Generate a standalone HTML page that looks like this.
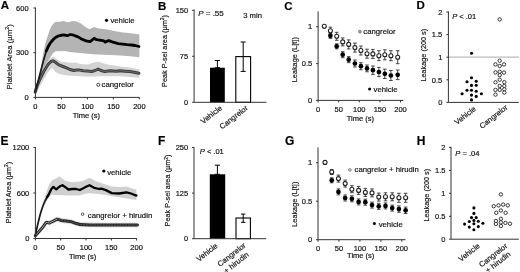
<!DOCTYPE html>
<html><head><meta charset="utf-8"><style>
html,body{margin:0;padding:0;background:#fff;width:520px;height:272px;overflow:hidden}
text{stroke:#111;stroke-width:0.18px}
</style></head><body>
<svg width="520" height="272" viewBox="0 0 520 272" style="display:block;filter:blur(0.3px)">
<g font-family='"Liberation Sans", sans-serif'>
<text x="0.8" y="9.3" font-size="11.5" text-anchor="start" font-weight="bold" font-style="normal" fill="#000" >A</text>
<polygon points="35.2,91 38,82 41,68 43.4,52 45.2,44.4 46.1,40.7 48,35.2 49.8,29.7 51.6,26 54.4,22.4 57,21.8 60,21.8 63.7,20.9 68,22.4 72.3,20.9 76.6,21.4 81,23.5 85.3,27.1 89.6,29.3 94,27 98.3,28.4 100,28.6 107.7,29.4 115.4,31.2 123.1,32.4 130.8,33.2 138.5,34.3 139.4,34.4 139.4,57.3 130,56.3 120.4,55.6 104,54.8 93.1,54.2 87.7,53.8 80,53 71.3,52.2 64.2,51 55.6,51.3 52.7,53.5 50.5,57 47.5,62 44,68 41,75 38,84 35.2,93" fill="#b4b4b4"/>
<polygon points="35.2,90 38,83 41,75 45,66 49,59 53,56.7 56,58.5 60,61.2 67.1,62.5 76.1,62.8 80,64 88.2,64.5 92,63 98.2,61.6 104,63.5 110,65 116.4,65.8 119.9,66.6 130,67.5 138,69.1 139.4,69.3 139.4,77.8 130,77 120.4,76.2 100,76.3 87.7,76.8 76.1,76 67.1,75.4 60,74.3 55.5,72 52,68 48,72 44,79 40,86 37,92 35.2,95" fill="#d3d3d3"/>
<polyline points="35.2,92 37,86 40,79 44,71 48,64.5 51,61.5 53,60.8 55,62 58.8,64.9 63,66.5 67.1,68.2 70,69.5 73.7,70.5 77,70 79,69.9 83.3,70.7 87,71 91.6,71.6 95,70.5 98.2,69.1 101,70.5 104.8,71.6 110,70.7 116.4,71.3 119.9,70.7 125,71.2 129.8,71.6 134,72.3 138.9,73.2" fill="none" stroke="#3c3c3c" stroke-width="3.0" stroke-linejoin="round" stroke-linecap="round" />
<polyline points="35.2,92 37,86 40,79 44,71 48,64.5 51,61.5 53,60.8 55,62 58.8,64.9 63,66.5 67.1,68.2 70,69.5 73.7,70.5 77,70 79,69.9 83.3,70.7 87,71 91.6,71.6 95,70.5 98.2,69.1 101,70.5 104.8,71.6 110,70.7 116.4,71.3 119.9,70.7 125,71.2 129.8,71.6 134,72.3 138.9,73.2" fill="none" stroke="#767676" stroke-width="0.8" stroke-linejoin="round" stroke-linecap="round" />
<polyline points="35.2,92 37.4,84 40.1,73.5 41.8,67 43.2,61.5 45,55.5 46.3,51 48,47" fill="none" stroke="#1a1a1a" stroke-width="1.7" stroke-linejoin="round" stroke-linecap="round" />
<polyline points="46.3,51 48,47 50,43.5 51.5,41.5 53.5,39.3 55.5,37.5 57.9,36.2 60,35.5 63.8,34.9 67.1,35.7 70.4,34.5 73.7,35.2 78,36.9 82,39.3 86.1,40.9 90.1,41.7 92.6,39.7 94.2,38.3 96.6,39.7 99.8,40.1 103.9,40.9 105,42.1 107,41.2 109,40.6 112.9,42.2 118.2,43.6 122.7,44.1 127.1,44.6 131.5,45 135,45.5 139,46.5" fill="none" stroke="#000" stroke-width="2.8" stroke-linejoin="round" stroke-linecap="round" />
<line x1="35.4" y1="7.5" x2="35.4" y2="97.4" stroke="#333" stroke-width="1"/>
<line x1="33.4" y1="8" x2="35.4" y2="8" stroke="#333" stroke-width="1"/>
<text x="28.6" y="10.7" font-size="7.5" text-anchor="end" font-weight="normal" font-style="normal" fill="#111" >600</text>
<line x1="33.4" y1="52.7" x2="35.4" y2="52.7" stroke="#333" stroke-width="1"/>
<text x="28.6" y="55.400000000000006" font-size="7.5" text-anchor="end" font-weight="normal" font-style="normal" fill="#111" >300</text>
<line x1="33.4" y1="97.4" x2="35.4" y2="97.4" stroke="#333" stroke-width="1"/>
<text x="28.6" y="100.10000000000001" font-size="7.5" text-anchor="end" font-weight="normal" font-style="normal" fill="#111" >0</text>
<line x1="35.4" y1="97.4" x2="139.6" y2="97.4" stroke="#333" stroke-width="1"/>
<line x1="35.4" y1="97.4" x2="35.4" y2="99.4" stroke="#333" stroke-width="1"/>
<text x="35.4" y="109.4" font-size="7.5" text-anchor="middle" font-weight="normal" font-style="normal" fill="#111" >0</text>
<line x1="61.4" y1="97.4" x2="61.4" y2="99.4" stroke="#333" stroke-width="1"/>
<text x="61.4" y="109.4" font-size="7.5" text-anchor="middle" font-weight="normal" font-style="normal" fill="#111" >50</text>
<line x1="87.4" y1="97.4" x2="87.4" y2="99.4" stroke="#333" stroke-width="1"/>
<text x="87.4" y="109.4" font-size="7.5" text-anchor="middle" font-weight="normal" font-style="normal" fill="#111" >100</text>
<line x1="113.4" y1="97.4" x2="113.4" y2="99.4" stroke="#333" stroke-width="1"/>
<text x="113.4" y="109.4" font-size="7.5" text-anchor="middle" font-weight="normal" font-style="normal" fill="#111" >150</text>
<line x1="139.4" y1="97.4" x2="139.4" y2="99.4" stroke="#333" stroke-width="1"/>
<text x="139.4" y="109.4" font-size="7.5" text-anchor="middle" font-weight="normal" font-style="normal" fill="#111" >200</text>
<text x="86.3" y="117.8" font-size="7.5" text-anchor="middle" font-weight="normal" font-style="normal" fill="#111" >Time (s)</text>
<text x="0" y="0" font-size="7.75" text-anchor="middle" fill="#1a1a1a" transform="translate(11.6,56.8) rotate(-90)">Platelet Area (µm<tspan font-size="5.4" dy="-2.3">2</tspan><tspan dy="2.3">)</tspan></text>
<circle cx="106.5" cy="20.3" r="1.6" fill="#000"/>
<text x="110.4" y="23.2" font-size="7.75" text-anchor="start" font-weight="normal" font-style="normal" fill="#111" >vehicle</text>
<circle cx="98.3" cy="84.8" r="1.5" fill="#fff" stroke="#333" stroke-width="0.9"/>
<text x="101.6" y="87.4" font-size="7.75" text-anchor="start" font-weight="normal" font-style="normal" fill="#111" >cangrelor</text>
<text x="158.1" y="9.5" font-size="11.5" text-anchor="start" font-weight="bold" font-style="normal" fill="#000" >B</text>
<rect x="210" y="67.7" width="14.8" height="34.6" fill="#000"/>
<line x1="217.4" y1="60.5" x2="217.4" y2="67.7" stroke="#000" stroke-width="1.0"/>
<line x1="214.8" y1="60.5" x2="220.0" y2="60.5" stroke="#000" stroke-width="1.0"/>
<line x1="214.8" y1="67.7" x2="220.0" y2="67.7" stroke="#000" stroke-width="1.0"/>
<rect x="235.8" y="56.6" width="14.8" height="45.7" fill="#fff" stroke="#000" stroke-width="1.1"/>
<line x1="243.2" y1="42.0" x2="243.2" y2="71.4" stroke="#000" stroke-width="1.0"/>
<line x1="240.7" y1="42.0" x2="245.7" y2="42.0" stroke="#000" stroke-width="1.0"/>
<line x1="240.7" y1="71.4" x2="245.7" y2="71.4" stroke="#000" stroke-width="1.0"/>
<line x1="194.1" y1="9.5" x2="194.1" y2="102.3" stroke="#333" stroke-width="1"/>
<line x1="192.1" y1="10.3" x2="194.1" y2="10.3" stroke="#333" stroke-width="1"/>
<text x="188.2" y="13.0" font-size="7.5" text-anchor="end" font-weight="normal" font-style="normal" fill="#111" >150</text>
<line x1="192.1" y1="56.3" x2="194.1" y2="56.3" stroke="#333" stroke-width="1"/>
<text x="188.2" y="59.0" font-size="7.5" text-anchor="end" font-weight="normal" font-style="normal" fill="#111" >75</text>
<line x1="192.1" y1="102.3" x2="194.1" y2="102.3" stroke="#333" stroke-width="1"/>
<text x="188.2" y="105.0" font-size="7.5" text-anchor="end" font-weight="normal" font-style="normal" fill="#111" >0</text>
<line x1="194.1" y1="102.3" x2="266.5" y2="102.3" stroke="#333" stroke-width="1"/>
<text x="198.2" y="15.6" font-size="8.0" text-anchor="start" font-weight="normal" font-style="normal" fill="#111" ><tspan font-style="italic">P</tspan> = .55</text>
<text x="243.2" y="18.3" font-size="7.7" text-anchor="start" font-weight="normal" font-style="normal" fill="#111" >3 min</text>
<text x="0" y="0" font-size="7.3" text-anchor="middle" fill="#1a1a1a" transform="translate(166.9,51.0) rotate(-90)">Peak P-sel area (µm<tspan font-size="5" dy="-2.5">2</tspan><tspan dy="2.5">)</tspan></text>
<text x="0" y="0" font-size="7.6" text-anchor="end" fill="#1a1a1a" transform="translate(222.6,109.1) rotate(-38)">Vehicle</text>
<text x="0" y="0" font-size="7.6" text-anchor="end" fill="#1a1a1a" transform="translate(248.4,109.0) rotate(-38)">Cangrelor</text>
<text x="284.3" y="9.5" font-size="11.5" text-anchor="start" font-weight="bold" font-style="normal" fill="#000" >C</text>
<line x1="318.1" y1="11.4" x2="318.1" y2="100.4" stroke="#333" stroke-width="1"/>
<line x1="316.1" y1="26.7" x2="318.1" y2="26.7" stroke="#333" stroke-width="1"/>
<text x="312.2" y="29.4" font-size="7.5" text-anchor="end" font-weight="normal" font-style="normal" fill="#111" >1</text>
<line x1="316.1" y1="63.6" x2="318.1" y2="63.6" stroke="#333" stroke-width="1"/>
<text x="312.2" y="66.3" font-size="7.5" text-anchor="end" font-weight="normal" font-style="normal" fill="#111" >0.5</text>
<line x1="316.1" y1="100.4" x2="318.1" y2="100.4" stroke="#333" stroke-width="1"/>
<text x="312.2" y="103.10000000000001" font-size="7.5" text-anchor="end" font-weight="normal" font-style="normal" fill="#111" >0</text>
<line x1="318.1" y1="100.4" x2="403.4" y2="100.4" stroke="#333" stroke-width="1"/>
<line x1="318.1" y1="100.4" x2="318.1" y2="102.4" stroke="#333" stroke-width="1"/>
<text x="318.1" y="111.9" font-size="7.5" text-anchor="middle" font-weight="normal" font-style="normal" fill="#111" >0</text>
<line x1="338.70000000000005" y1="100.4" x2="338.70000000000005" y2="102.4" stroke="#333" stroke-width="1"/>
<text x="338.70000000000005" y="111.9" font-size="7.5" text-anchor="middle" font-weight="normal" font-style="normal" fill="#111" >50</text>
<line x1="359.3" y1="100.4" x2="359.3" y2="102.4" stroke="#333" stroke-width="1"/>
<text x="359.3" y="111.9" font-size="7.5" text-anchor="middle" font-weight="normal" font-style="normal" fill="#111" >100</text>
<line x1="379.90000000000003" y1="100.4" x2="379.90000000000003" y2="102.4" stroke="#333" stroke-width="1"/>
<text x="379.90000000000003" y="111.9" font-size="7.5" text-anchor="middle" font-weight="normal" font-style="normal" fill="#111" >150</text>
<line x1="400.5" y1="100.4" x2="400.5" y2="102.4" stroke="#333" stroke-width="1"/>
<text x="400.5" y="111.9" font-size="7.5" text-anchor="middle" font-weight="normal" font-style="normal" fill="#111" >200</text>
<text x="360.4" y="120.7" font-size="7.5" text-anchor="middle" font-weight="normal" font-style="normal" fill="#111" >Time (s)</text>
<text x="0" y="0" font-size="7.3" text-anchor="middle" fill="#1a1a1a" transform="translate(297.0,59.7) rotate(-90)">Leakage (L[t])</text>
<line x1="330.4" y1="33.3" x2="330.4" y2="38.3" stroke="#333" stroke-width="0.9"/>
<line x1="328.59999999999997" y1="33.3" x2="332.2" y2="33.3" stroke="#333" stroke-width="0.9"/>
<line x1="328.59999999999997" y1="38.3" x2="332.2" y2="38.3" stroke="#333" stroke-width="0.9"/>
<line x1="330.4" y1="27.2" x2="330.4" y2="34.2" stroke="#333" stroke-width="0.9"/>
<line x1="328.59999999999997" y1="27.2" x2="332.2" y2="27.2" stroke="#333" stroke-width="0.9"/>
<line x1="328.59999999999997" y1="34.2" x2="332.2" y2="34.2" stroke="#333" stroke-width="0.9"/>
<line x1="336.7" y1="43.8" x2="336.7" y2="48.8" stroke="#333" stroke-width="0.9"/>
<line x1="334.9" y1="43.8" x2="338.5" y2="43.8" stroke="#333" stroke-width="0.9"/>
<line x1="334.9" y1="48.8" x2="338.5" y2="48.8" stroke="#333" stroke-width="0.9"/>
<line x1="336.7" y1="32.3" x2="336.7" y2="40.3" stroke="#333" stroke-width="0.9"/>
<line x1="334.9" y1="32.3" x2="338.5" y2="32.3" stroke="#333" stroke-width="0.9"/>
<line x1="334.9" y1="40.3" x2="338.5" y2="40.3" stroke="#333" stroke-width="0.9"/>
<line x1="342.7" y1="51.7" x2="342.7" y2="57.7" stroke="#333" stroke-width="0.9"/>
<line x1="340.9" y1="51.7" x2="344.5" y2="51.7" stroke="#333" stroke-width="0.9"/>
<line x1="340.9" y1="57.7" x2="344.5" y2="57.7" stroke="#333" stroke-width="0.9"/>
<line x1="342.7" y1="37.9" x2="342.7" y2="45.9" stroke="#333" stroke-width="0.9"/>
<line x1="340.9" y1="37.9" x2="344.5" y2="37.9" stroke="#333" stroke-width="0.9"/>
<line x1="340.9" y1="45.9" x2="344.5" y2="45.9" stroke="#333" stroke-width="0.9"/>
<line x1="348.7" y1="56.7" x2="348.7" y2="62.7" stroke="#333" stroke-width="0.9"/>
<line x1="346.9" y1="56.7" x2="350.5" y2="56.7" stroke="#333" stroke-width="0.9"/>
<line x1="346.9" y1="62.7" x2="350.5" y2="62.7" stroke="#333" stroke-width="0.9"/>
<line x1="348.7" y1="39.9" x2="348.7" y2="48.9" stroke="#333" stroke-width="0.9"/>
<line x1="346.9" y1="39.9" x2="350.5" y2="39.9" stroke="#333" stroke-width="0.9"/>
<line x1="346.9" y1="48.9" x2="350.5" y2="48.9" stroke="#333" stroke-width="0.9"/>
<line x1="354.9" y1="60.0" x2="354.9" y2="67.0" stroke="#333" stroke-width="0.9"/>
<line x1="353.09999999999997" y1="60.0" x2="356.7" y2="60.0" stroke="#333" stroke-width="0.9"/>
<line x1="353.09999999999997" y1="67.0" x2="356.7" y2="67.0" stroke="#333" stroke-width="0.9"/>
<line x1="354.9" y1="43.1" x2="354.9" y2="52.1" stroke="#333" stroke-width="0.9"/>
<line x1="353.09999999999997" y1="43.1" x2="356.7" y2="43.1" stroke="#333" stroke-width="0.9"/>
<line x1="353.09999999999997" y1="52.1" x2="356.7" y2="52.1" stroke="#333" stroke-width="0.9"/>
<line x1="360.9" y1="62.7" x2="360.9" y2="69.7" stroke="#333" stroke-width="0.9"/>
<line x1="359.09999999999997" y1="62.7" x2="362.7" y2="62.7" stroke="#333" stroke-width="0.9"/>
<line x1="359.09999999999997" y1="69.7" x2="362.7" y2="69.7" stroke="#333" stroke-width="0.9"/>
<line x1="360.9" y1="46.0" x2="360.9" y2="55.0" stroke="#333" stroke-width="0.9"/>
<line x1="359.09999999999997" y1="46.0" x2="362.7" y2="46.0" stroke="#333" stroke-width="0.9"/>
<line x1="359.09999999999997" y1="55.0" x2="362.7" y2="55.0" stroke="#333" stroke-width="0.9"/>
<line x1="367.0" y1="65.0" x2="367.0" y2="71.80000000000001" stroke="#333" stroke-width="0.9"/>
<line x1="365.2" y1="65.0" x2="368.8" y2="65.0" stroke="#333" stroke-width="0.9"/>
<line x1="365.2" y1="71.80000000000001" x2="368.8" y2="71.80000000000001" stroke="#333" stroke-width="0.9"/>
<line x1="367.0" y1="49.2" x2="367.0" y2="58.2" stroke="#333" stroke-width="0.9"/>
<line x1="365.2" y1="49.2" x2="368.8" y2="49.2" stroke="#333" stroke-width="0.9"/>
<line x1="365.2" y1="58.2" x2="368.8" y2="58.2" stroke="#333" stroke-width="0.9"/>
<line x1="372.9" y1="66.0" x2="372.9" y2="74.4" stroke="#333" stroke-width="0.9"/>
<line x1="371.09999999999997" y1="66.0" x2="374.7" y2="66.0" stroke="#333" stroke-width="0.9"/>
<line x1="371.09999999999997" y1="74.4" x2="374.7" y2="74.4" stroke="#333" stroke-width="0.9"/>
<line x1="372.9" y1="49.4" x2="372.9" y2="58.4" stroke="#333" stroke-width="0.9"/>
<line x1="371.09999999999997" y1="49.4" x2="374.7" y2="49.4" stroke="#333" stroke-width="0.9"/>
<line x1="371.09999999999997" y1="58.4" x2="374.7" y2="58.4" stroke="#333" stroke-width="0.9"/>
<line x1="378.9" y1="67.4" x2="378.9" y2="76.6" stroke="#333" stroke-width="0.9"/>
<line x1="377.09999999999997" y1="67.4" x2="380.7" y2="67.4" stroke="#333" stroke-width="0.9"/>
<line x1="377.09999999999997" y1="76.6" x2="380.7" y2="76.6" stroke="#333" stroke-width="0.9"/>
<line x1="378.9" y1="50.7" x2="378.9" y2="60.7" stroke="#333" stroke-width="0.9"/>
<line x1="377.09999999999997" y1="50.7" x2="380.7" y2="50.7" stroke="#333" stroke-width="0.9"/>
<line x1="377.09999999999997" y1="60.7" x2="380.7" y2="60.7" stroke="#333" stroke-width="0.9"/>
<line x1="384.8" y1="69.1" x2="384.8" y2="78.5" stroke="#333" stroke-width="0.9"/>
<line x1="383.0" y1="69.1" x2="386.6" y2="69.1" stroke="#333" stroke-width="0.9"/>
<line x1="383.0" y1="78.5" x2="386.6" y2="78.5" stroke="#333" stroke-width="0.9"/>
<line x1="384.8" y1="49.8" x2="384.8" y2="59.8" stroke="#333" stroke-width="0.9"/>
<line x1="383.0" y1="49.8" x2="386.6" y2="49.8" stroke="#333" stroke-width="0.9"/>
<line x1="383.0" y1="59.8" x2="386.6" y2="59.8" stroke="#333" stroke-width="0.9"/>
<line x1="390.9" y1="70.5" x2="390.9" y2="80.5" stroke="#333" stroke-width="0.9"/>
<line x1="389.09999999999997" y1="70.5" x2="392.7" y2="70.5" stroke="#333" stroke-width="0.9"/>
<line x1="389.09999999999997" y1="80.5" x2="392.7" y2="80.5" stroke="#333" stroke-width="0.9"/>
<line x1="390.9" y1="50.7" x2="390.9" y2="60.7" stroke="#333" stroke-width="0.9"/>
<line x1="389.09999999999997" y1="50.7" x2="392.7" y2="50.7" stroke="#333" stroke-width="0.9"/>
<line x1="389.09999999999997" y1="60.7" x2="392.7" y2="60.7" stroke="#333" stroke-width="0.9"/>
<line x1="397.7" y1="70.0" x2="397.7" y2="79.6" stroke="#333" stroke-width="0.9"/>
<line x1="395.9" y1="70.0" x2="399.5" y2="70.0" stroke="#333" stroke-width="0.9"/>
<line x1="395.9" y1="79.6" x2="399.5" y2="79.6" stroke="#333" stroke-width="0.9"/>
<line x1="397.7" y1="50.7" x2="397.7" y2="63.7" stroke="#333" stroke-width="0.9"/>
<line x1="395.9" y1="50.7" x2="399.5" y2="50.7" stroke="#333" stroke-width="0.9"/>
<line x1="395.9" y1="63.7" x2="399.5" y2="63.7" stroke="#333" stroke-width="0.9"/>
<circle cx="330.4" cy="35.8" r="2.35" fill="#000"/>
<circle cx="336.7" cy="46.3" r="2.35" fill="#000"/>
<circle cx="342.7" cy="54.7" r="2.35" fill="#000"/>
<circle cx="348.7" cy="59.7" r="2.35" fill="#000"/>
<circle cx="354.9" cy="63.5" r="2.35" fill="#000"/>
<circle cx="360.9" cy="66.2" r="2.35" fill="#000"/>
<circle cx="367.0" cy="68.4" r="2.35" fill="#000"/>
<circle cx="372.9" cy="70.2" r="2.35" fill="#000"/>
<circle cx="378.9" cy="72.0" r="2.35" fill="#000"/>
<circle cx="384.8" cy="73.8" r="2.35" fill="#000"/>
<circle cx="390.9" cy="75.5" r="2.35" fill="#000"/>
<circle cx="397.7" cy="74.8" r="2.35" fill="#000"/>
<circle cx="324.3" cy="26.3" r="2.0" fill="#fff" stroke="#222" stroke-width="1.1"/>
<circle cx="330.4" cy="30.7" r="2.0" fill="#fff" stroke="#222" stroke-width="1.1"/>
<circle cx="336.7" cy="36.3" r="2.0" fill="#fff" stroke="#222" stroke-width="1.1"/>
<circle cx="342.7" cy="41.9" r="2.0" fill="#fff" stroke="#222" stroke-width="1.1"/>
<circle cx="348.7" cy="44.4" r="2.0" fill="#fff" stroke="#222" stroke-width="1.1"/>
<circle cx="354.9" cy="47.6" r="2.0" fill="#fff" stroke="#222" stroke-width="1.1"/>
<circle cx="360.9" cy="50.5" r="2.0" fill="#fff" stroke="#222" stroke-width="1.1"/>
<circle cx="367.0" cy="53.7" r="2.0" fill="#fff" stroke="#222" stroke-width="1.1"/>
<circle cx="372.9" cy="53.9" r="2.0" fill="#fff" stroke="#222" stroke-width="1.1"/>
<circle cx="378.9" cy="55.7" r="2.0" fill="#fff" stroke="#222" stroke-width="1.1"/>
<circle cx="384.8" cy="54.8" r="2.0" fill="#fff" stroke="#222" stroke-width="1.1"/>
<circle cx="390.9" cy="55.7" r="2.0" fill="#fff" stroke="#222" stroke-width="1.1"/>
<circle cx="397.7" cy="57.2" r="2.0" fill="#fff" stroke="#222" stroke-width="1.1"/>
<circle cx="359.9" cy="31.6" r="1.4" fill="#aaa" stroke="#666" stroke-width="0.8"/>
<text x="363.3" y="34.3" font-size="7.75" text-anchor="start" font-weight="normal" font-style="normal" fill="#111" >cangrelor</text>
<circle cx="369.6" cy="89.1" r="1.5" fill="#000"/>
<text x="373.5" y="91.7" font-size="7.75" text-anchor="start" font-weight="normal" font-style="normal" fill="#111" >vehicle</text>
<text x="416.5" y="9.3" font-size="11.5" text-anchor="start" font-weight="bold" font-style="normal" fill="#000" >D</text>
<line x1="448" y1="57.1" x2="519" y2="57.1" stroke="#aaa" stroke-width="1"/>
<line x1="448.4" y1="11.4" x2="448.4" y2="102.4" stroke="#333" stroke-width="1"/>
<line x1="446.4" y1="12" x2="448.4" y2="12" stroke="#333" stroke-width="1"/>
<text x="442.3" y="14.7" font-size="7.5" text-anchor="end" font-weight="normal" font-style="normal" fill="#111" >2</text>
<line x1="446.4" y1="34.6" x2="448.4" y2="34.6" stroke="#333" stroke-width="1"/>
<text x="442.3" y="37.300000000000004" font-size="7.5" text-anchor="end" font-weight="normal" font-style="normal" fill="#111" >1.5</text>
<line x1="446.4" y1="57.2" x2="448.4" y2="57.2" stroke="#333" stroke-width="1"/>
<text x="442.3" y="59.900000000000006" font-size="7.5" text-anchor="end" font-weight="normal" font-style="normal" fill="#111" >1</text>
<line x1="446.4" y1="79.8" x2="448.4" y2="79.8" stroke="#333" stroke-width="1"/>
<text x="442.3" y="82.5" font-size="7.5" text-anchor="end" font-weight="normal" font-style="normal" fill="#111" >0.5</text>
<line x1="446.4" y1="102.4" x2="448.4" y2="102.4" stroke="#333" stroke-width="1"/>
<text x="442.3" y="105.10000000000001" font-size="7.5" text-anchor="end" font-weight="normal" font-style="normal" fill="#111" >0</text>
<line x1="448.4" y1="102.4" x2="518.8" y2="102.4" stroke="#333" stroke-width="1"/>
<text x="452.2" y="19.4" font-size="7.5" text-anchor="start" font-weight="normal" font-style="normal" fill="#111" ><tspan font-style="italic">P</tspan> &lt; .01</text>
<circle cx="471.6" cy="53.2" r="1.55" fill="#000"/>
<circle cx="471.5" cy="77.7" r="1.55" fill="#000"/>
<circle cx="467" cy="81.8" r="1.55" fill="#000"/>
<circle cx="476.2" cy="81.3" r="1.55" fill="#000"/>
<circle cx="471.5" cy="85.4" r="1.55" fill="#000"/>
<circle cx="476.2" cy="85.2" r="1.55" fill="#000"/>
<circle cx="467" cy="90.2" r="1.55" fill="#000"/>
<circle cx="471.5" cy="90.2" r="1.55" fill="#000"/>
<circle cx="476.2" cy="91.2" r="1.55" fill="#000"/>
<circle cx="462.1" cy="93.8" r="1.55" fill="#000"/>
<circle cx="481.4" cy="93.8" r="1.55" fill="#000"/>
<circle cx="471.5" cy="95.1" r="1.55" fill="#000"/>
<circle cx="476.2" cy="96.4" r="1.55" fill="#000"/>
<circle cx="471.5" cy="99.9" r="1.55" fill="#000"/>
<circle cx="499.7" cy="19.4" r="1.7" fill="#fff" stroke="#222" stroke-width="0.9"/>
<circle cx="499.7" cy="60.7" r="1.7" fill="#fff" stroke="#222" stroke-width="0.9"/>
<circle cx="495.5" cy="64.4" r="1.7" fill="#fff" stroke="#222" stroke-width="0.9"/>
<circle cx="504" cy="64.4" r="1.7" fill="#fff" stroke="#222" stroke-width="0.9"/>
<circle cx="499.7" cy="66" r="1.7" fill="#fff" stroke="#222" stroke-width="0.9"/>
<circle cx="495.5" cy="72.4" r="1.7" fill="#fff" stroke="#222" stroke-width="0.9"/>
<circle cx="499.7" cy="71.8" r="1.7" fill="#fff" stroke="#222" stroke-width="0.9"/>
<circle cx="504" cy="72.6" r="1.7" fill="#fff" stroke="#222" stroke-width="0.9"/>
<circle cx="499.7" cy="75.1" r="1.7" fill="#fff" stroke="#222" stroke-width="0.9"/>
<circle cx="499.7" cy="79.7" r="1.7" fill="#fff" stroke="#222" stroke-width="0.9"/>
<circle cx="495.5" cy="82.3" r="1.7" fill="#fff" stroke="#222" stroke-width="0.9"/>
<circle cx="504.3" cy="82.2" r="1.7" fill="#fff" stroke="#222" stroke-width="0.9"/>
<circle cx="499.7" cy="86" r="1.7" fill="#fff" stroke="#222" stroke-width="0.9"/>
<circle cx="504.3" cy="86" r="1.7" fill="#fff" stroke="#222" stroke-width="0.9"/>
<circle cx="495.5" cy="89.9" r="1.7" fill="#fff" stroke="#222" stroke-width="0.9"/>
<circle cx="499.7" cy="89.9" r="1.7" fill="#fff" stroke="#222" stroke-width="0.9"/>
<circle cx="504.3" cy="89.3" r="1.7" fill="#fff" stroke="#222" stroke-width="0.9"/>
<circle cx="495.5" cy="94.6" r="1.7" fill="#fff" stroke="#222" stroke-width="0.9"/>
<circle cx="504.3" cy="92.6" r="1.7" fill="#fff" stroke="#222" stroke-width="0.9"/>
<text x="0" y="0" font-size="7.3" text-anchor="middle" fill="#1a1a1a" transform="translate(425.8,55.2) rotate(-90)">Leakage (200 s)</text>
<text x="0" y="0" font-size="7.6" text-anchor="end" fill="#1a1a1a" transform="translate(476.3,110.0) rotate(-38)">Vehicle</text>
<text x="0" y="0" font-size="7.6" text-anchor="end" fill="#1a1a1a" transform="translate(508.2,108.4) rotate(-38)">Cangrelor</text>
<text x="0.4" y="144.8" font-size="12" text-anchor="start" font-weight="bold" font-style="normal" fill="#000" >E</text>
<polygon points="35.2,234 38,222 41,210 44,200 46.5,192 48.8,184.7 52.4,179.9 56,178.5 59.7,176.2 61.2,177.7 65.7,180.9 73.5,182.2 82.5,180.9 89.5,177.7 96.6,181.6 104,184 111.8,186.5 120,187 126.5,186.5 132,188.5 136.4,189.8 136.4,200 128,198.7 116.9,197 108,195.5 99.2,194 88,193.3 78.6,195.5 68.8,195.5 56.7,195 51.2,194.8 48,199 45.5,203 43,208 40.5,216 38,225 35.2,237" fill="#d0d0d0"/>
<polygon points="35.3,233.3 37.2,231.0 39.1,228.8 41,226.6 43,224.3 44.6,222.0 46.2,219.8 47.8,220.0 49.4,220.4 51.3,219.4 53.3,218.5 55.2,217.5 57.2,216.6 59,217.0 61,217.8 66.2,218.5 71.3,219.1 75.5,220.70000000000002 78.4,221.4 80,222.0 90,222.3 100,222.4 110,222.5 120,222.4 130,222.3 137.5,222.4 137.5,227.6 130,227.5 120,227.6 110,227.7 100,227.6 90,227.5 80,227.2 78.4,226.6 75.5,225.9 71.3,224.29999999999998 66.2,223.7 61,223.0 59,222.2 57.2,221.79999999999998 55.2,222.7 53.3,223.7 51.3,224.6 49.4,225.6 47.8,225.2 46.2,225.0 44.6,227.2 43,229.5 41,231.79999999999998 39.1,234.0 37.2,236.2 35.3,238.5" fill="#e2e2e2"/>
<polyline points="35.3,235.9 37.2,233.6 39.1,231.4 41,229.2 43,226.9 44.6,224.6 46.2,222.4 47.8,222.6 49.4,223 51.3,222 53.3,221.1 55.2,220.1 57.2,219.2 59,219.6 61,220.4 66.2,221.1 71.3,221.7 75.5,223.3 78.4,224 80,224.6 90,224.9 100,225 110,225.1 120,225 130,224.9 137.5,225" fill="none" stroke="#262626" stroke-width="3.0" stroke-linejoin="round" stroke-linecap="round" />
<polyline points="59,219.6 61,220.4 66.2,221.1 71.3,221.7 75.5,223.3 78.4,224 80,224.6 90,224.9 100,225 110,225.1 120,225 130,224.9 137.5,225" fill="none" stroke="#7a7a7a" stroke-width="0.6" stroke-linejoin="round" stroke-linecap="round" stroke-dasharray="1.2 1.6"/>
<polyline points="35.3,235.9 37.2,233.6 39.1,231.4 41,229.2 43,226.9 44.6,224.6 46.2,222.4 47.8,222.6 49.4,223 51.3,222 53.3,221.1 55.2,220.1 57.2,219.2" fill="none" stroke="#b0b0b0" stroke-width="0.9" stroke-linejoin="round" stroke-linecap="round" />
<polyline points="35.2,235.5 37.9,223.8 40.3,214 42.7,206.5 45.2,200.5 47.2,197 49,194" fill="none" stroke="#1a1a1a" stroke-width="1.7" stroke-linejoin="round" stroke-linecap="round" />
<polyline points="47.2,197 49,194 51.2,189.2 53.4,186.9 55,188.4 56.3,189.4 58.5,187.4 60.5,186 62.5,185.2 65.7,187.4 68.3,189.5 72.2,189 76,189 79.9,190 83.8,188 86.5,186.5 89.5,185.2 94.1,187.8 99.2,189 101.5,188.7 105.9,190.1 111.8,193.1 119.1,193.5 126.5,192.4 131,193.5 135.3,195.3 136.4,195.5" fill="none" stroke="#000" stroke-width="2.3" stroke-linejoin="round" stroke-linecap="round" />
<line x1="35.4" y1="147.0" x2="35.4" y2="238.5" stroke="#333" stroke-width="1"/>
<line x1="33.4" y1="147.4" x2="35.4" y2="147.4" stroke="#333" stroke-width="1"/>
<text x="29.3" y="150.1" font-size="7.5" text-anchor="end" font-weight="normal" font-style="normal" fill="#111" >1200</text>
<line x1="33.4" y1="193.0" x2="35.4" y2="193.0" stroke="#333" stroke-width="1"/>
<text x="29.3" y="195.7" font-size="7.5" text-anchor="end" font-weight="normal" font-style="normal" fill="#111" >600</text>
<line x1="33.4" y1="238.5" x2="35.4" y2="238.5" stroke="#333" stroke-width="1"/>
<text x="29.3" y="241.2" font-size="7.5" text-anchor="end" font-weight="normal" font-style="normal" fill="#111" >0</text>
<line x1="35.4" y1="238.5" x2="136.8" y2="238.5" stroke="#333" stroke-width="1"/>
<line x1="35.4" y1="238.5" x2="35.4" y2="240.5" stroke="#333" stroke-width="1"/>
<text x="35.4" y="250.3" font-size="7.5" text-anchor="middle" font-weight="normal" font-style="normal" fill="#111" >0</text>
<line x1="60.7" y1="238.5" x2="60.7" y2="240.5" stroke="#333" stroke-width="1"/>
<text x="60.7" y="250.3" font-size="7.5" text-anchor="middle" font-weight="normal" font-style="normal" fill="#111" >50</text>
<line x1="86.0" y1="238.5" x2="86.0" y2="240.5" stroke="#333" stroke-width="1"/>
<text x="86.0" y="250.3" font-size="7.5" text-anchor="middle" font-weight="normal" font-style="normal" fill="#111" >100</text>
<line x1="111.30000000000001" y1="238.5" x2="111.30000000000001" y2="240.5" stroke="#333" stroke-width="1"/>
<text x="111.30000000000001" y="250.3" font-size="7.5" text-anchor="middle" font-weight="normal" font-style="normal" fill="#111" >150</text>
<line x1="136.6" y1="238.5" x2="136.6" y2="240.5" stroke="#333" stroke-width="1"/>
<text x="136.6" y="250.3" font-size="7.5" text-anchor="middle" font-weight="normal" font-style="normal" fill="#111" >200</text>
<text x="82.6" y="259.1" font-size="7.5" text-anchor="middle" font-weight="normal" font-style="normal" fill="#111" >Time (s)</text>
<text x="0" y="0" font-size="7.3" text-anchor="middle" fill="#1a1a1a" transform="translate(10.6,192.5) rotate(-90)">Platelet Area (µm<tspan font-size="5" dy="-2.5">2</tspan><tspan dy="2.5">)</tspan></text>
<circle cx="103.8" cy="171.0" r="1.6" fill="#000"/>
<text x="107.2" y="175.1" font-size="7.75" text-anchor="start" font-weight="normal" font-style="normal" fill="#111" >vehicle</text>
<circle cx="82.6" cy="214.2" r="1.25" fill="#fff" stroke="#333" stroke-width="0.85"/>
<text x="87.8" y="218.2" font-size="7.75" text-anchor="start" font-weight="normal" font-style="normal" fill="#111" >cangrelor + hirudin</text>
<text x="158.1" y="144.6" font-size="12" text-anchor="start" font-weight="bold" font-style="normal" fill="#000" >F</text>
<rect x="209.8" y="174.3" width="15.4" height="64.4" fill="#000"/>
<line x1="217.4" y1="165.2" x2="217.4" y2="174.3" stroke="#000" stroke-width="1.0"/>
<line x1="214.8" y1="165.2" x2="220.0" y2="165.2" stroke="#000" stroke-width="1.0"/>
<line x1="214.8" y1="174.3" x2="220.0" y2="174.3" stroke="#000" stroke-width="1.0"/>
<rect x="236.0" y="218.0" width="14.4" height="20.7" fill="#fff" stroke="#000" stroke-width="1.1"/>
<line x1="243.2" y1="214.1" x2="243.2" y2="222.3" stroke="#000" stroke-width="1.0"/>
<line x1="241.0" y1="214.1" x2="245.39999999999998" y2="214.1" stroke="#000" stroke-width="1.0"/>
<line x1="241.0" y1="222.3" x2="245.39999999999998" y2="222.3" stroke="#000" stroke-width="1.0"/>
<line x1="194.0" y1="147.0" x2="194.0" y2="238.7" stroke="#333" stroke-width="1"/>
<line x1="192.0" y1="147.5" x2="194.0" y2="147.5" stroke="#333" stroke-width="1"/>
<text x="188.2" y="150.2" font-size="7.5" text-anchor="end" font-weight="normal" font-style="normal" fill="#111" >250</text>
<line x1="192.0" y1="193.1" x2="194.0" y2="193.1" stroke="#333" stroke-width="1"/>
<text x="188.2" y="195.79999999999998" font-size="7.5" text-anchor="end" font-weight="normal" font-style="normal" fill="#111" >125</text>
<line x1="192.0" y1="238.7" x2="194.0" y2="238.7" stroke="#333" stroke-width="1"/>
<text x="188.2" y="241.39999999999998" font-size="7.5" text-anchor="end" font-weight="normal" font-style="normal" fill="#111" >0</text>
<line x1="194.0" y1="238.7" x2="266.2" y2="238.7" stroke="#333" stroke-width="1"/>
<text x="199.8" y="153.8" font-size="7.5" text-anchor="start" font-weight="normal" font-style="normal" fill="#111" ><tspan font-style="italic">P</tspan> &lt; .01</text>
<text x="0" y="0" font-size="7.3" text-anchor="middle" fill="#1a1a1a" transform="translate(170.4,190.5) rotate(-90)">Peak P-sel area (µm<tspan font-size="5" dy="-2.5">2</tspan><tspan dy="2.5">)</tspan></text>
<text x="0" y="0" font-size="7.6" text-anchor="end" fill="#1a1a1a" transform="translate(218.2,246.8) rotate(-38)">Vehicle</text>
<text x="0" y="0" font-size="7.6" text-anchor="end" fill="#1a1a1a" transform="translate(246.3,246.4) rotate(-38)">Cangrelor</text>
<text x="0" y="0" font-size="7.6" text-anchor="end" fill="#1a1a1a" transform="translate(249.4,255.6) rotate(-38)">+ hirudin</text>
<text x="284.9" y="144.9" font-size="12" text-anchor="start" font-weight="bold" font-style="normal" fill="#000" >G</text>
<line x1="318.0" y1="147.4" x2="318.0" y2="239.7" stroke="#333" stroke-width="1"/>
<line x1="316.0" y1="162.7" x2="318.0" y2="162.7" stroke="#333" stroke-width="1"/>
<text x="312.2" y="165.39999999999998" font-size="7.5" text-anchor="end" font-weight="normal" font-style="normal" fill="#111" >1</text>
<line x1="316.0" y1="201.2" x2="318.0" y2="201.2" stroke="#333" stroke-width="1"/>
<text x="312.2" y="203.89999999999998" font-size="7.5" text-anchor="end" font-weight="normal" font-style="normal" fill="#111" >0.5</text>
<line x1="316.0" y1="239.7" x2="318.0" y2="239.7" stroke="#333" stroke-width="1"/>
<text x="312.2" y="242.39999999999998" font-size="7.5" text-anchor="end" font-weight="normal" font-style="normal" fill="#111" >0</text>
<line x1="318.0" y1="239.7" x2="405.5" y2="239.7" stroke="#333" stroke-width="1"/>
<line x1="318.0" y1="239.7" x2="318.0" y2="241.7" stroke="#333" stroke-width="1"/>
<text x="318.0" y="251.3" font-size="7.5" text-anchor="middle" font-weight="normal" font-style="normal" fill="#111" >0</text>
<line x1="338.95" y1="239.7" x2="338.95" y2="241.7" stroke="#333" stroke-width="1"/>
<text x="338.95" y="251.3" font-size="7.5" text-anchor="middle" font-weight="normal" font-style="normal" fill="#111" >50</text>
<line x1="359.9" y1="239.7" x2="359.9" y2="241.7" stroke="#333" stroke-width="1"/>
<text x="359.9" y="251.3" font-size="7.5" text-anchor="middle" font-weight="normal" font-style="normal" fill="#111" >100</text>
<line x1="380.85" y1="239.7" x2="380.85" y2="241.7" stroke="#333" stroke-width="1"/>
<text x="380.85" y="251.3" font-size="7.5" text-anchor="middle" font-weight="normal" font-style="normal" fill="#111" >150</text>
<line x1="401.8" y1="239.7" x2="401.8" y2="241.7" stroke="#333" stroke-width="1"/>
<text x="401.8" y="251.3" font-size="7.5" text-anchor="middle" font-weight="normal" font-style="normal" fill="#111" >200</text>
<text x="360.7" y="258.2" font-size="7.5" text-anchor="middle" font-weight="normal" font-style="normal" fill="#111" >Time (s)</text>
<text x="0" y="0" font-size="7.3" text-anchor="middle" fill="#1a1a1a" transform="translate(296.6,204.2) rotate(-90)">Leakage (L[t])</text>
<line x1="331.72" y1="177.8" x2="331.72" y2="182.8" stroke="#333" stroke-width="0.9"/>
<line x1="329.92" y1="177.8" x2="333.52000000000004" y2="177.8" stroke="#333" stroke-width="0.9"/>
<line x1="329.92" y1="182.8" x2="333.52000000000004" y2="182.8" stroke="#333" stroke-width="0.9"/>
<line x1="331.72" y1="169.5" x2="331.72" y2="174.5" stroke="#333" stroke-width="0.9"/>
<line x1="329.92" y1="169.5" x2="333.52000000000004" y2="169.5" stroke="#333" stroke-width="0.9"/>
<line x1="329.92" y1="174.5" x2="333.52000000000004" y2="174.5" stroke="#333" stroke-width="0.9"/>
<line x1="338.44" y1="188.9" x2="338.44" y2="194.9" stroke="#333" stroke-width="0.9"/>
<line x1="336.64" y1="188.9" x2="340.24" y2="188.9" stroke="#333" stroke-width="0.9"/>
<line x1="336.64" y1="194.9" x2="340.24" y2="194.9" stroke="#333" stroke-width="0.9"/>
<line x1="338.44" y1="175.1" x2="338.44" y2="182.1" stroke="#333" stroke-width="0.9"/>
<line x1="336.64" y1="175.1" x2="340.24" y2="175.1" stroke="#333" stroke-width="0.9"/>
<line x1="336.64" y1="182.1" x2="340.24" y2="182.1" stroke="#333" stroke-width="0.9"/>
<line x1="345.16" y1="195.0" x2="345.16" y2="201.0" stroke="#333" stroke-width="0.9"/>
<line x1="343.36" y1="195.0" x2="346.96000000000004" y2="195.0" stroke="#333" stroke-width="0.9"/>
<line x1="343.36" y1="201.0" x2="346.96000000000004" y2="201.0" stroke="#333" stroke-width="0.9"/>
<line x1="345.16" y1="180.1" x2="345.16" y2="187.1" stroke="#333" stroke-width="0.9"/>
<line x1="343.36" y1="180.1" x2="346.96000000000004" y2="180.1" stroke="#333" stroke-width="0.9"/>
<line x1="343.36" y1="187.1" x2="346.96000000000004" y2="187.1" stroke="#333" stroke-width="0.9"/>
<line x1="351.88" y1="195.8" x2="351.88" y2="201.8" stroke="#333" stroke-width="0.9"/>
<line x1="350.08" y1="195.8" x2="353.68" y2="195.8" stroke="#333" stroke-width="0.9"/>
<line x1="350.08" y1="201.8" x2="353.68" y2="201.8" stroke="#333" stroke-width="0.9"/>
<line x1="351.88" y1="185.7" x2="351.88" y2="192.7" stroke="#333" stroke-width="0.9"/>
<line x1="350.08" y1="185.7" x2="353.68" y2="185.7" stroke="#333" stroke-width="0.9"/>
<line x1="350.08" y1="192.7" x2="353.68" y2="192.7" stroke="#333" stroke-width="0.9"/>
<line x1="358.6" y1="198.9" x2="358.6" y2="204.9" stroke="#333" stroke-width="0.9"/>
<line x1="356.8" y1="198.9" x2="360.40000000000003" y2="198.9" stroke="#333" stroke-width="0.9"/>
<line x1="356.8" y1="204.9" x2="360.40000000000003" y2="204.9" stroke="#333" stroke-width="0.9"/>
<line x1="358.6" y1="186.4" x2="358.6" y2="194.4" stroke="#333" stroke-width="0.9"/>
<line x1="356.8" y1="186.4" x2="360.40000000000003" y2="186.4" stroke="#333" stroke-width="0.9"/>
<line x1="356.8" y1="194.4" x2="360.40000000000003" y2="194.4" stroke="#333" stroke-width="0.9"/>
<line x1="365.32" y1="199.2" x2="365.32" y2="205.2" stroke="#333" stroke-width="0.9"/>
<line x1="363.52" y1="199.2" x2="367.12" y2="199.2" stroke="#333" stroke-width="0.9"/>
<line x1="363.52" y1="205.2" x2="367.12" y2="205.2" stroke="#333" stroke-width="0.9"/>
<line x1="365.32" y1="188.4" x2="365.32" y2="196.4" stroke="#333" stroke-width="0.9"/>
<line x1="363.52" y1="188.4" x2="367.12" y2="188.4" stroke="#333" stroke-width="0.9"/>
<line x1="363.52" y1="196.4" x2="367.12" y2="196.4" stroke="#333" stroke-width="0.9"/>
<line x1="372.04" y1="202.1" x2="372.04" y2="208.1" stroke="#333" stroke-width="0.9"/>
<line x1="370.24" y1="202.1" x2="373.84000000000003" y2="202.1" stroke="#333" stroke-width="0.9"/>
<line x1="370.24" y1="208.1" x2="373.84000000000003" y2="208.1" stroke="#333" stroke-width="0.9"/>
<line x1="372.04" y1="188.9" x2="372.04" y2="196.9" stroke="#333" stroke-width="0.9"/>
<line x1="370.24" y1="188.9" x2="373.84000000000003" y2="188.9" stroke="#333" stroke-width="0.9"/>
<line x1="370.24" y1="196.9" x2="373.84000000000003" y2="196.9" stroke="#333" stroke-width="0.9"/>
<line x1="378.76" y1="203.3" x2="378.76" y2="209.3" stroke="#333" stroke-width="0.9"/>
<line x1="376.96" y1="203.3" x2="380.56" y2="203.3" stroke="#333" stroke-width="0.9"/>
<line x1="376.96" y1="209.3" x2="380.56" y2="209.3" stroke="#333" stroke-width="0.9"/>
<line x1="378.76" y1="193.1" x2="378.76" y2="201.1" stroke="#333" stroke-width="0.9"/>
<line x1="376.96" y1="193.1" x2="380.56" y2="193.1" stroke="#333" stroke-width="0.9"/>
<line x1="376.96" y1="201.1" x2="380.56" y2="201.1" stroke="#333" stroke-width="0.9"/>
<line x1="385.48" y1="202.9" x2="385.48" y2="208.9" stroke="#333" stroke-width="0.9"/>
<line x1="383.68" y1="202.9" x2="387.28000000000003" y2="202.9" stroke="#333" stroke-width="0.9"/>
<line x1="383.68" y1="208.9" x2="387.28000000000003" y2="208.9" stroke="#333" stroke-width="0.9"/>
<line x1="385.48" y1="192.8" x2="385.48" y2="200.8" stroke="#333" stroke-width="0.9"/>
<line x1="383.68" y1="192.8" x2="387.28000000000003" y2="192.8" stroke="#333" stroke-width="0.9"/>
<line x1="383.68" y1="200.8" x2="387.28000000000003" y2="200.8" stroke="#333" stroke-width="0.9"/>
<line x1="392.2" y1="205.1" x2="392.2" y2="211.1" stroke="#333" stroke-width="0.9"/>
<line x1="390.4" y1="205.1" x2="394.0" y2="205.1" stroke="#333" stroke-width="0.9"/>
<line x1="390.4" y1="211.1" x2="394.0" y2="211.1" stroke="#333" stroke-width="0.9"/>
<line x1="392.2" y1="192.8" x2="392.2" y2="200.8" stroke="#333" stroke-width="0.9"/>
<line x1="390.4" y1="192.8" x2="394.0" y2="192.8" stroke="#333" stroke-width="0.9"/>
<line x1="390.4" y1="200.8" x2="394.0" y2="200.8" stroke="#333" stroke-width="0.9"/>
<line x1="398.92" y1="205.9" x2="398.92" y2="212.29999999999998" stroke="#333" stroke-width="0.9"/>
<line x1="397.12" y1="205.9" x2="400.72" y2="205.9" stroke="#333" stroke-width="0.9"/>
<line x1="397.12" y1="212.29999999999998" x2="400.72" y2="212.29999999999998" stroke="#333" stroke-width="0.9"/>
<line x1="398.92" y1="193.3" x2="398.92" y2="202.3" stroke="#333" stroke-width="0.9"/>
<line x1="397.12" y1="193.3" x2="400.72" y2="193.3" stroke="#333" stroke-width="0.9"/>
<line x1="397.12" y1="202.3" x2="400.72" y2="202.3" stroke="#333" stroke-width="0.9"/>
<line x1="405.64" y1="207.10000000000002" x2="405.64" y2="213.5" stroke="#333" stroke-width="0.9"/>
<line x1="403.84" y1="207.10000000000002" x2="407.44" y2="207.10000000000002" stroke="#333" stroke-width="0.9"/>
<line x1="403.84" y1="213.5" x2="407.44" y2="213.5" stroke="#333" stroke-width="0.9"/>
<line x1="405.64" y1="193.3" x2="405.64" y2="202.3" stroke="#333" stroke-width="0.9"/>
<line x1="403.84" y1="193.3" x2="407.44" y2="193.3" stroke="#333" stroke-width="0.9"/>
<line x1="403.84" y1="202.3" x2="407.44" y2="202.3" stroke="#333" stroke-width="0.9"/>
<circle cx="331.72" cy="180.3" r="2.35" fill="#000"/>
<circle cx="338.44" cy="191.9" r="2.35" fill="#000"/>
<circle cx="345.16" cy="198.0" r="2.35" fill="#000"/>
<circle cx="351.88" cy="198.8" r="2.35" fill="#000"/>
<circle cx="358.6" cy="201.9" r="2.35" fill="#000"/>
<circle cx="365.32" cy="202.2" r="2.35" fill="#000"/>
<circle cx="372.04" cy="205.1" r="2.35" fill="#000"/>
<circle cx="378.76" cy="206.3" r="2.35" fill="#000"/>
<circle cx="385.48" cy="205.9" r="2.35" fill="#000"/>
<circle cx="392.2" cy="208.1" r="2.35" fill="#000"/>
<circle cx="398.92" cy="209.1" r="2.35" fill="#000"/>
<circle cx="405.64" cy="210.3" r="2.35" fill="#000"/>
<circle cx="325.0" cy="162.4" r="2.0" fill="#fff" stroke="#222" stroke-width="1.1"/>
<circle cx="331.72" cy="172.0" r="2.0" fill="#fff" stroke="#222" stroke-width="1.1"/>
<circle cx="338.44" cy="178.6" r="2.0" fill="#fff" stroke="#222" stroke-width="1.1"/>
<circle cx="345.16" cy="183.6" r="2.0" fill="#fff" stroke="#222" stroke-width="1.1"/>
<circle cx="351.88" cy="189.2" r="2.0" fill="#fff" stroke="#222" stroke-width="1.1"/>
<circle cx="358.6" cy="190.4" r="2.0" fill="#fff" stroke="#222" stroke-width="1.1"/>
<circle cx="365.32" cy="192.4" r="2.0" fill="#fff" stroke="#222" stroke-width="1.1"/>
<circle cx="372.04" cy="192.9" r="2.0" fill="#fff" stroke="#222" stroke-width="1.1"/>
<circle cx="378.76" cy="197.1" r="2.0" fill="#fff" stroke="#222" stroke-width="1.1"/>
<circle cx="385.48" cy="196.8" r="2.0" fill="#fff" stroke="#222" stroke-width="1.1"/>
<circle cx="392.2" cy="196.8" r="2.0" fill="#fff" stroke="#222" stroke-width="1.1"/>
<circle cx="398.92" cy="197.8" r="2.0" fill="#fff" stroke="#222" stroke-width="1.1"/>
<circle cx="405.64" cy="197.8" r="2.0" fill="#fff" stroke="#222" stroke-width="1.1"/>
<circle cx="349.9" cy="169.9" r="1.3" fill="#fff" stroke="#555" stroke-width="0.8"/>
<text x="354.5" y="172.4" font-size="7.75" text-anchor="start" font-weight="normal" font-style="normal" fill="#111" >cangrelor + hirudin</text>
<circle cx="374.4" cy="223.6" r="1.5" fill="#000"/>
<text x="378.7" y="226.5" font-size="7.75" text-anchor="start" font-weight="normal" font-style="normal" fill="#111" >vehicle</text>
<text x="416.7" y="144.9" font-size="12" text-anchor="start" font-weight="bold" font-style="normal" fill="#000" >H</text>
<line x1="451.0" y1="146.7" x2="451.0" y2="239.2" stroke="#333" stroke-width="1"/>
<line x1="449.0" y1="147.4" x2="451.0" y2="147.4" stroke="#333" stroke-width="1"/>
<text x="445.5" y="150.1" font-size="7.5" text-anchor="end" font-weight="normal" font-style="normal" fill="#111" >2</text>
<line x1="449.0" y1="170.4" x2="451.0" y2="170.4" stroke="#333" stroke-width="1"/>
<text x="445.5" y="173.1" font-size="7.5" text-anchor="end" font-weight="normal" font-style="normal" fill="#111" >1.5</text>
<line x1="449.0" y1="193.3" x2="451.0" y2="193.3" stroke="#333" stroke-width="1"/>
<text x="445.5" y="196.0" font-size="7.5" text-anchor="end" font-weight="normal" font-style="normal" fill="#111" >1</text>
<line x1="449.0" y1="216.3" x2="451.0" y2="216.3" stroke="#333" stroke-width="1"/>
<text x="445.5" y="219.0" font-size="7.5" text-anchor="end" font-weight="normal" font-style="normal" fill="#111" >0.5</text>
<line x1="449.0" y1="239.2" x2="451.0" y2="239.2" stroke="#333" stroke-width="1"/>
<text x="445.5" y="241.89999999999998" font-size="7.5" text-anchor="end" font-weight="normal" font-style="normal" fill="#111" >0</text>
<line x1="451.0" y1="239.2" x2="518.8" y2="239.2" stroke="#333" stroke-width="1"/>
<text x="455.2" y="155.9" font-size="7.6" text-anchor="start" font-weight="normal" font-style="normal" fill="#111" ><tspan font-style="italic">P</tspan> = .04</text>
<circle cx="473.9" cy="207.9" r="1.55" fill="#000"/>
<circle cx="473.9" cy="213.4" r="1.55" fill="#000"/>
<circle cx="471.5" cy="217.6" r="1.55" fill="#000"/>
<circle cx="476.2" cy="217.6" r="1.55" fill="#000"/>
<circle cx="473.9" cy="220.4" r="1.55" fill="#000"/>
<circle cx="469.3" cy="221.5" r="1.55" fill="#000"/>
<circle cx="478.3" cy="221.2" r="1.55" fill="#000"/>
<circle cx="473.9" cy="223.7" r="1.55" fill="#000"/>
<circle cx="464.6" cy="224.1" r="1.55" fill="#000"/>
<circle cx="482.9" cy="223.3" r="1.55" fill="#000"/>
<circle cx="469.3" cy="227.1" r="1.55" fill="#000"/>
<circle cx="478.3" cy="226.6" r="1.55" fill="#000"/>
<circle cx="473.9" cy="229.7" r="1.55" fill="#000"/>
<circle cx="500.9" cy="194.4" r="1.7" fill="#fff" stroke="#222" stroke-width="0.9"/>
<circle cx="493.7" cy="206.2" r="1.7" fill="#fff" stroke="#222" stroke-width="0.9"/>
<circle cx="498.5" cy="205.4" r="1.7" fill="#fff" stroke="#222" stroke-width="0.9"/>
<circle cx="503.2" cy="204.6" r="1.7" fill="#fff" stroke="#222" stroke-width="0.9"/>
<circle cx="507.8" cy="205.4" r="1.7" fill="#fff" stroke="#222" stroke-width="0.9"/>
<circle cx="496.3" cy="212.8" r="1.7" fill="#fff" stroke="#222" stroke-width="0.9"/>
<circle cx="500.9" cy="210.5" r="1.7" fill="#fff" stroke="#222" stroke-width="0.9"/>
<circle cx="505.6" cy="212.8" r="1.7" fill="#fff" stroke="#222" stroke-width="0.9"/>
<circle cx="500.9" cy="218.8" r="1.7" fill="#fff" stroke="#222" stroke-width="0.9"/>
<circle cx="495.9" cy="221" r="1.7" fill="#fff" stroke="#222" stroke-width="0.9"/>
<circle cx="500.9" cy="222.4" r="1.7" fill="#fff" stroke="#222" stroke-width="0.9"/>
<circle cx="495.9" cy="224" r="1.7" fill="#fff" stroke="#222" stroke-width="0.9"/>
<circle cx="505.4" cy="222.9" r="1.7" fill="#fff" stroke="#222" stroke-width="0.9"/>
<circle cx="510" cy="223.7" r="1.7" fill="#fff" stroke="#222" stroke-width="0.9"/>
<circle cx="500.9" cy="226" r="1.7" fill="#fff" stroke="#222" stroke-width="0.9"/>
<text x="0" y="0" font-size="7.3" text-anchor="middle" fill="#1a1a1a" transform="translate(428.9,195.2) rotate(-90)">Leakage (200 s)</text>
<text x="0" y="0" font-size="7.6" text-anchor="end" fill="#1a1a1a" transform="translate(480.3,246.9) rotate(-38)">Vehicle</text>
<text x="0" y="0" font-size="7.6" text-anchor="end" fill="#1a1a1a" transform="translate(507.9,247.0) rotate(-38)">Cangrelor</text>
<text x="0" y="0" font-size="7.6" text-anchor="end" fill="#1a1a1a" transform="translate(511.2,255.1) rotate(-38)">+ hirudin</text>
</g></svg>
</body></html>
